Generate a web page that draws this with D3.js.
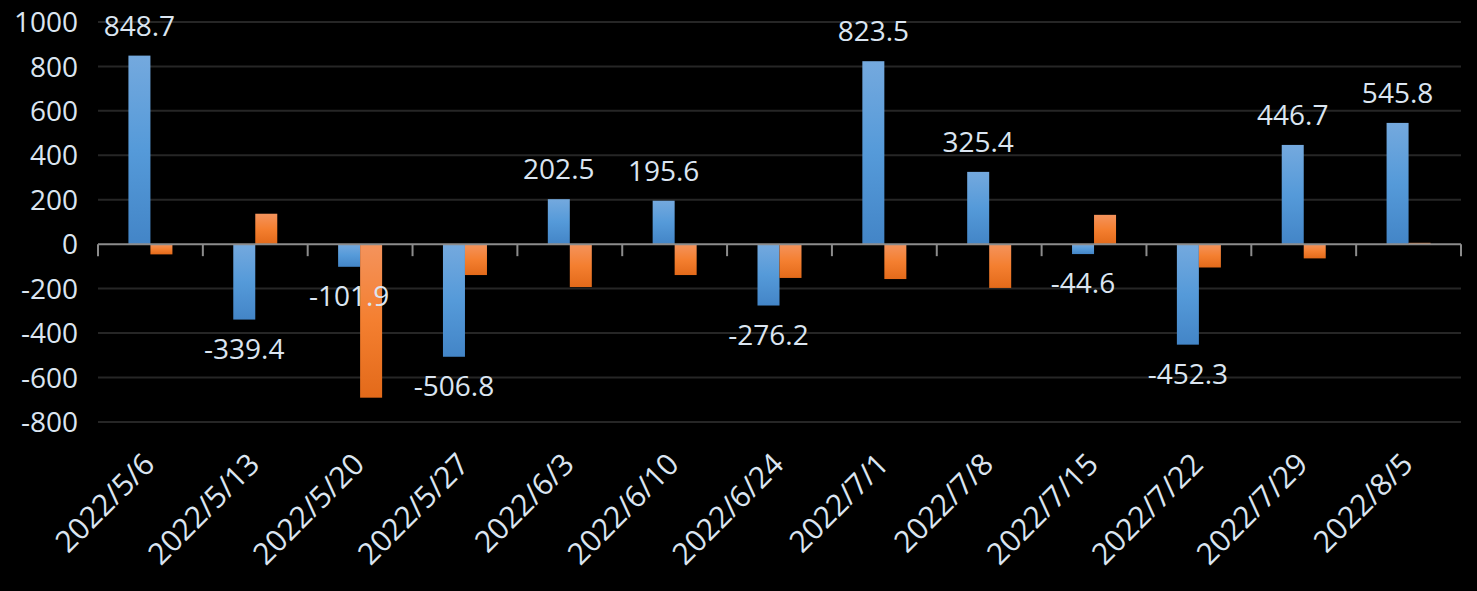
<!DOCTYPE html>
<html>
<head>
<meta charset="utf-8">
<script src="https://cdn.jsdelivr.net/npm/d3@7"></script>
<style>
  html, body { margin: 0; padding: 0; background: #000; }
  svg { display: block; }
  text { font-family: "Open Sans", "Noto Sans", sans-serif; fill: #dbe5f1; }
</style>
</head>
<body>
<div id="container"></div>
<script>
// chart data
const categories = ["2022/5/6", "2022/5/13", "2022/5/20", "2022/5/27", "2022/6/3", "2022/6/10",
  "2022/6/24", "2022/7/1", "2022/7/8", "2022/7/15", "2022/7/22", "2022/7/29", "2022/8/5"];
const seriesBlue = [848.7, -339.4, -101.9, -506.8, 202.5, 195.6, -276.2, 823.5, 325.4, -44.6, -452.3, 446.7, 545.8];
const seriesOrange = [-46, 137, -691, -139, -193, -139, -152, -157, -197, 132, -105, -64, 6];
const yTicks = [-800, -600, -400, -200, 0, 200, 400, 600, 800, 1000];

const W = 1477, H = 591;
const left = 98, right = 1461;

const svg = d3.select("div#container")
  .append("svg")
  .attr("width", W)
  .attr("height", H);

svg.append("rect").attr("width", W).attr("height", H).attr("fill", "#000");

// gradients, lighter on top for every bar
const defs = svg.append("defs");
function grad(id, stops) {
  const g = defs.append("linearGradient").attr("id", id)
    .attr("x1", 0).attr("y1", 0).attr("x2", 0).attr("y2", 1);
  stops.forEach(s => g.append("stop").attr("offset", s[0]).attr("stop-color", s[1]));
}
grad("gBlue", [["0%", "#74a9de"], ["50%", "#559ad9"], ["100%", "#4385c7"]]);
grad("gOrange", [["0%", "#f4935c"], ["50%", "#f47f30"], ["100%", "#e36a1a"]]);

const y = d3.scaleLinear().domain([-800, 1000]).range([421.9, 22.0]);

const x0 = d3.scaleBand().domain(categories).range([left, right]).padding(0);
const groupW = 44;
const x1 = d3.scaleBand().domain(["blue", "orange"]).range([0, groupW]);

// plain hyphen for negatives, like the original
const fmt = v => v.toFixed(1);

// gridlines
svg.append("g")
  .selectAll("line")
  .data(yTicks.filter(d => d !== 0))
  .enter().append("line")
  .attr("x1", left).attr("x2", right)
  .attr("y1", d => y(d)).attr("y2", d => y(d))
  .attr("stroke", "#262626")
  .attr("stroke-width", 2);

// y axis labels
svg.append("g")
  .selectAll("text")
  .data(yTicks)
  .enter().append("text")
  .attr("x", 78)
  .attr("y", d => y(d))
  .attr("dy", "0.36em")
  .attr("text-anchor", "end")
  .attr("font-size", 28)
  .text(d => d);

const rows = categories.map((c, i) => ({ cat: c, blue: seriesBlue[i], orange: seriesOrange[i] }));

const groups = svg.append("g")
  .selectAll("g")
  .data(rows)
  .enter().append("g")
  .attr("transform", d => "translate(" + (x0(d.cat) + (x0.bandwidth() - groupW) / 2) + ",0)");

groups.append("rect")
  .attr("x", x1("blue"))
  .attr("width", x1.bandwidth())
  .attr("y", d => y(Math.max(0, d.blue)))
  .attr("height", d => Math.abs(y(d.blue) - y(0)))
  .attr("fill", "url(#gBlue)");

groups.append("rect")
  .attr("x", x1("orange"))
  .attr("width", x1.bandwidth())
  .attr("y", d => y(Math.max(0, d.orange)))
  .attr("height", d => Math.abs(y(d.orange) - y(0)))
  .attr("fill", "url(#gOrange)");

// data labels for the blue series
groups.append("text")
  .attr("x", x1("blue") + x1.bandwidth() / 2)
  .attr("y", d => d.blue >= 0 ? y(d.blue) - 20 : y(d.blue) + 39)
  .attr("text-anchor", "middle")
  .attr("font-size", 28)
  .text(d => fmt(d.blue));

// zero axis with tick marks at category boundaries
svg.append("line")
  .attr("x1", left).attr("x2", right)
  .attr("y1", y(0)).attr("y2", y(0))
  .attr("stroke", "#8c8c8c")
  .attr("stroke-width", 2);

const bounds = categories.map(c => x0(c)).concat([right]);
svg.append("g")
  .selectAll("line")
  .data(bounds)
  .enter().append("line")
  .attr("x1", d => d).attr("x2", d => d)
  .attr("y1", y(0)).attr("y2", y(0) + 12)
  .attr("stroke", "#8c8c8c")
  .attr("stroke-width", 2);

// rotated category labels
svg.append("g")
  .selectAll("text")
  .data(categories)
  .enter().append("text")
  .attr("transform", d => "translate(" + (x0(d) + x0.bandwidth() / 2 + 6) + ",466) rotate(-45)")
  .attr("text-anchor", "end")
  .attr("font-size", 30)
  .text(d => d);
</script>
</body>
</html>
